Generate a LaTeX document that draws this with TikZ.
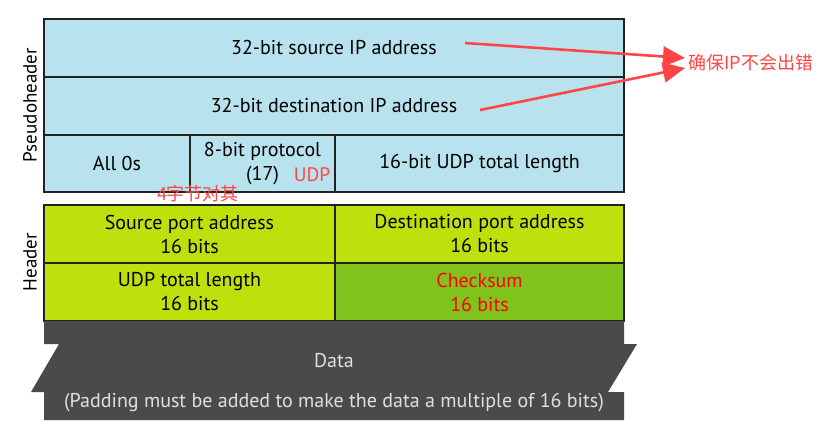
\documentclass[tikz,border=0pt]{standalone}
\usepackage{fontspec}
\setmainfont{PT Sans}
\newfontfamily\cjk{Noto Sans CJK SC}
\usetikzlibrary{arrows.meta}
\definecolor{pblue}{HTML}{B8E2EE}
\definecolor{hgreen}{HTML}{BEE10E}
\definecolor{dgreen}{HTML}{80C31C}
\definecolor{dgray}{HTML}{4A4A4A}
\definecolor{lred}{HTML}{FF4545}
\definecolor{edge}{HTML}{222222}
\begin{document}
\begin{tikzpicture}[x=1pt,y=-1pt,
  cell/.style={draw=edge,line width=1.4pt,inner sep=0pt,align=center,font=\fontsize{20}{24}\selectfont,text=black},
  redtxt/.style={text=lred,font=\fontsize{19.5}{22}\selectfont},
  arr/.style={draw=lred,fill=lred,line width=2.6pt,-{Triangle[length=22pt,width=20pt]}}]
\useasboundingbox (0,0) rectangle (835,433);
% pseudoheader
\node[cell,fill=pblue,minimum width=580,minimum height=58] (src) at (334,48) {32-bit source IP address};
\node[cell,fill=pblue,minimum width=580,minimum height=58] (dst) at (334,106) {32-bit destination IP address};
\node[cell,fill=pblue,minimum width=146,minimum height=57] (zeros) at (117,163.5) {All 0s};
\node[cell,fill=pblue,minimum width=145,minimum height=57] (proto) at (262.5,163.5) {8-bit protocol\\(17)};
\node[cell,fill=pblue,minimum width=289,minimum height=57] (plen) at (479.5,163.5) {16-bit UDP total length};
% header
\node[cell,fill=hgreen,minimum width=291,minimum height=58] (sport) at (189.5,234) {Source port address\\16 bits};
\node[cell,fill=hgreen,minimum width=289,minimum height=58] (dport) at (479.5,234) {Destination port address\\16 bits};
\node[cell,fill=hgreen,minimum width=291,minimum height=58] (ulen) at (189.5,292) {UDP total length\\16 bits};
\node[cell,fill=dgreen,minimum width=289,minimum height=58,text=red] (csum) at (479.5,292) {Checksum\\16 bits};
% data
\fill[dgray] (44,321) -- (624,321) -- (624,344) -- (637,344) -- (608,392) -- (624,392) -- (624,420)
  -- (44,420) -- (44,392) -- (31,392) -- (59,344) -- (44,344) -- cycle;
\node[text=white!88!black,font=\fontsize{20}{24}\selectfont] (data) at (334,361) {Data};
\node[text=white!88!black,font=\fontsize{20}{24}\selectfont] (pad) at (334,403) {(Padding must be added to make the data a multiple of 16 bits)};
% side labels
\node[rotate=90,font=\fontsize{19}{22}\selectfont] (pl) at (30,105) {Pseudoheader};
\node[rotate=90,font=\fontsize{19}{22}\selectfont] (hl) at (30,262) {Header};
% annotations
\node[redtxt] (udp) at (312,175) {UDP};
\node[redtxt,font=\cjk\fontsize{18}{22}\selectfont] (align) at (198,194) {4字节对其};
\node[redtxt,font=\cjk\fontsize{18}{22}\selectfont,anchor=west] (note) at (685,63) {确保IP不会出错};
\coordinate (a1) at (465,43);
\coordinate (a2) at (480,110);
\draw[arr] (a1) -- (note.west |- 0,58);
\draw[arr] (a2) -- (note.west |- 0,68);
\end{tikzpicture}
\end{document}
